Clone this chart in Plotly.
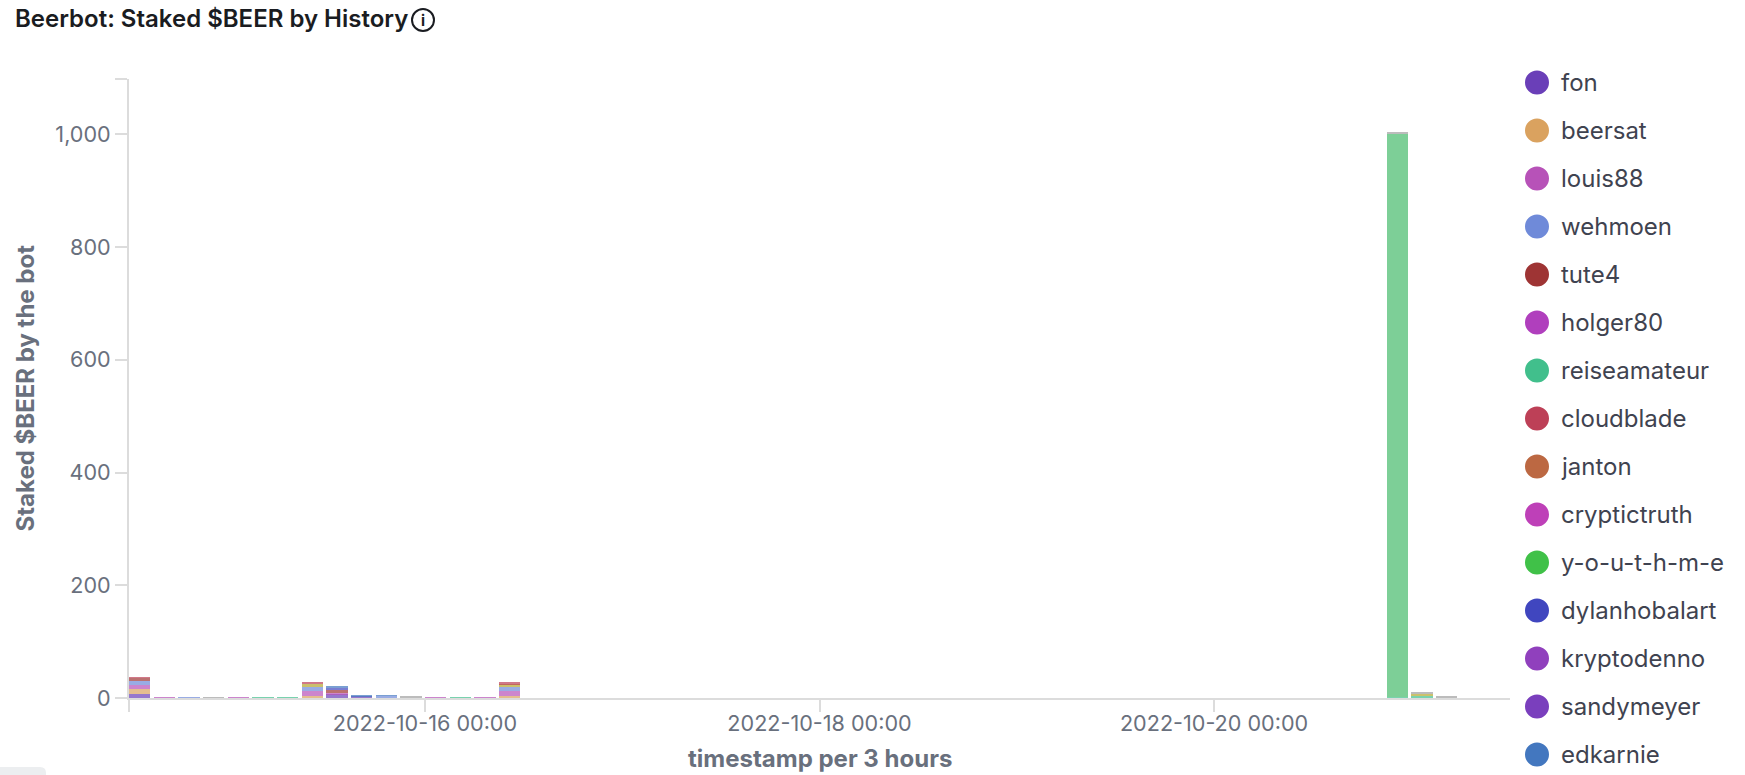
import plotly.graph_objects as go

W, H = 1745, 775
FONT = "Inter"
# plot area in page pixels
LEFT, RIGHT, TOP, BOTTOM = 129, 1510, 79, 698

# 3 hour buckets that hold something
bin_times = ["2022-10-14 12:00", "2022-10-14 15:00", "2022-10-14 18:00", "2022-10-14 21:00",
             "2022-10-15 00:00", "2022-10-15 03:00", "2022-10-15 06:00", "2022-10-15 09:00",
             "2022-10-15 12:00", "2022-10-15 15:00", "2022-10-15 18:00", "2022-10-15 21:00",
             "2022-10-16 00:00", "2022-10-16 03:00", "2022-10-16 06:00", "2022-10-16 09:00",
             "2022-10-20 21:00", "2022-10-21 00:00", "2022-10-21 03:00"]

# stake per user, same order as bin_times
fon =           [7,   0,   0,   0,   0,   0,   0,   0,   6.5, 3.5, 0,   0,   0,   0,   0,   0,   0,   0,   0]
beersat =       [9.5, 0,   0,   0,   0,   0,   0,   4,   0,   0,   0,   0,   0,   0,   0,   4,   0,   0,   0]
louis88 =       [7,   1.5, 0,   0,   1.5, 0,   0,   7.7, 2.3, 0,   0,   0,   1.5, 0,   1.5, 8.7, 0,   0,   0]
wehmoen =       [6,   0,   1.5, 0,   0,   0,   0,   8,   0,   0,   3.7, 0,   0,   0,   0,   7,   0,   0,   0]
tute4 =         [6,   0,   0,   0,   0,   0,   0,   0,   5,   0,   0,   0,   0,   0,   0,   0,   0,   0,   0]
dylanhobalart = [0,   0,   0,   0,   0,   0,   0,   0,   4,   0,   0,   0,   0,   0,   0,   0,   0,   0,   0]
edkarnie =      [0,   0,   0,   0,   0,   0,   0,   0,   3,   1,   1,   0,   0,   0,   0,   0,   0,   0,   0]
reiseamateur =  [0,   0,   0,   0,   0,   1.5, 1.5, 0,   0,   0,   0,   0,   0,   1.5, 0,   0,   1,   4,   0]
cloudblade =    [1,   0,   0,   0,   0,   0,   0,   3,   0,   0,   0,   0,   0,   0,   0,   3.5, 0,   0,   0]
# users further down the legend, below the fold of the page
lower_green =   [0,   0,   0,   0,   0,   0,   0,   0,   0,   0,   0,   0,   0,   0,   0,   0,   1000, 0, 0]
lower_yellow =  [0,   0,   0,   0,   0,   0,   0,   5.3, 0,   0,   0,   0,   0,   0,   0,   4.7, 0,   3.5, 0]
lower_grey =    [0,   0,   0,   1.5, 0,   0,   0,   0,   0,   0,   0,   2,   0,   0,   0,   0,   2,   2,   3]

stack_order = [
    ("fon", fon, "#6a3fb8"), ("beersat", beersat, "#daa25f"), ("louis88", louis88, "#b752b8"),
    ("wehmoen", wehmoen, "#6f8ad9"), ("tute4", tute4, "#9e3434"),
    ("dylanhobalart", dylanhobalart, "#4046bf"), ("edkarnie", edkarnie, "#4377bf"),
    ("reiseamateur", reiseamateur, "#41bf8c"), ("lower_green", lower_green, "#46bb6b"),
    ("lower_yellow", lower_yellow, "#b5a62e"), ("cloudblade", cloudblade, "#bd4057"),
    ("lower_grey", lower_grey, "#a0a0a0"),
]

legend_names = ["fon", "beersat", "louis88", "wehmoen", "tute4", "holger80", "reiseamateur",
                "cloudblade", "janton", "cryptictruth", "y-o-u-t-h-m-e", "dylanhobalart",
                "kryptodenno", "sandymeyer", "edkarnie"]
legend_colors = ["#6a3fb8", "#daa25f", "#b752b8", "#6f8ad9", "#9e3434", "#b03fbd", "#41bf8c",
                 "#bd4057", "#bc6842", "#be40b8", "#40c148", "#4046bf", "#9040bd", "#7a3fbd",
                 "#4377bf"]

y_ticks = [0, 200, 400, 600, 800, 1000, 1098]
y_labels = ["0", "200", "400", "600", "800", "1,000", ""]
x_ticks = ["2022-10-14 12:00", "2022-10-16 00:00", "2022-10-18 00:00", "2022-10-20 00:00"]
x_labels = ["", "2022-10-16 00:00", "2022-10-18 00:00", "2022-10-20 00:00"]

fig = go.Figure()
for name, vals, color in stack_order:
    fig.add_trace(go.Bar(x=bin_times, y=vals, name=name, marker_color=color, marker_line_width=0,
                         opacity=0.7, width=3 * 3600 * 1000 * 0.87, offset=0, showlegend=False))


# page pixels to paper coordinates (paper is the plot area)
def px(x):
    return (x - LEFT) / (RIGHT - LEFT)


def py(y):
    return (BOTTOM - y) / (BOTTOM - TOP)


# legend by hand, the native one can't do these big dots with this spacing
shapes = []
annotations = []
for i, (name, color) in enumerate(zip(legend_names, legend_colors)):
    cy = 82.5 + i * 48
    shapes.append(dict(type="circle", xref="paper", yref="paper", x0=px(1525), x1=px(1549),
                       y0=py(cy + 12), y1=py(cy - 12), fillcolor=color, line_width=0))
    annotations.append(dict(text=name, xref="paper", yref="paper", x=px(1559), y=py(cy),
                            xanchor="left", yanchor="middle", showarrow=False,
                            font=dict(family=FONT, size=24, color="#3f4350")))

# axis titles as annotations, standoff doesn't place them where they need to be
annotations.append(dict(text="timestamp per 3 hours", xref="paper", yref="paper", x=px(819.5), y=py(758),
                        xanchor="center", yanchor="middle", showarrow=False,
                        font=dict(family=FONT, size=24, color="#69707d", weight=700)))
annotations.append(dict(text="Staked $BEER by the bot", xref="paper", yref="paper", x=px(24.5), y=py(388),
                        xanchor="center", yanchor="middle", showarrow=False, textangle=-90,
                        font=dict(family=FONT, size=24, color="#69707d", weight=700)))

# info icon next to the title
shapes.append(dict(type="circle", xref="paper", yref="paper", x0=px(412), x1=px(434),
                   y0=py(31), y1=py(9), line=dict(color="#1a1c21", width=2)))
annotations.append(dict(text="i", xref="paper", yref="paper", x=px(423), y=py(20),
                        xanchor="center", yanchor="middle", showarrow=False,
                        font=dict(family=FONT, size=15, color="#1a1c21", weight=700)))

# grey corner of the button cut off at the bottom left
shapes.append(dict(type="path", xref="paper", yref="paper", line_width=0, fillcolor="#eceef0",
                   path=f"M {px(0)} {py(775)} L {px(0)} {py(767)} L {px(40)} {py(767)} "
                        f"Q {px(46)} {py(767)} {px(46)} {py(773)} L {px(46)} {py(775)} Z"))

fig.update_layout(
    autosize=False, width=W, height=H,
    margin=dict(l=LEFT, r=W - RIGHT, t=TOP, b=H - BOTTOM),
    barmode="stack", plot_bgcolor="white", paper_bgcolor="white",
    title=dict(text="Beerbot: Staked $BEER by History", xref="container", yref="container",
               x=15 / W, xanchor="left", y=1 - 19 / H, yanchor="middle",
               font=dict(family=FONT, size=24, color="#1a1c21", weight=600)),
    shapes=shapes, annotations=annotations,
)
fig.update_xaxes(
    type="date", range=["2022-10-14 12:00", "2022-10-21 12:00"], automargin=False,
    tickmode="array", tickvals=x_ticks, ticktext=x_labels, ticklabelstandoff=-7,
    ticks="outside", ticklen=12, tickwidth=2, tickcolor="#dcdcdc",
    showline=True, linecolor="#dcdcdc", linewidth=2, showgrid=False, zeroline=False,
    tickfont=dict(family=FONT, size=21.6, color="#69707d"),
)
fig.update_yaxes(
    range=[0, 1098], automargin=False, tickmode="array", tickvals=y_ticks, ticktext=y_labels,
    ticks="outside", ticklen=12, tickwidth=2, tickcolor="#dcdcdc",
    showline=True, linecolor="#dcdcdc", linewidth=2, showgrid=False, zeroline=False,
    tickfont=dict(family=FONT, size=21.6, color="#69707d"),
)

# browser's default body margin would push the chart 8px down and right
fig.write_html("out.html", config={"displayModeBar": False},
               post_script="document.body.style.margin = '0';")
